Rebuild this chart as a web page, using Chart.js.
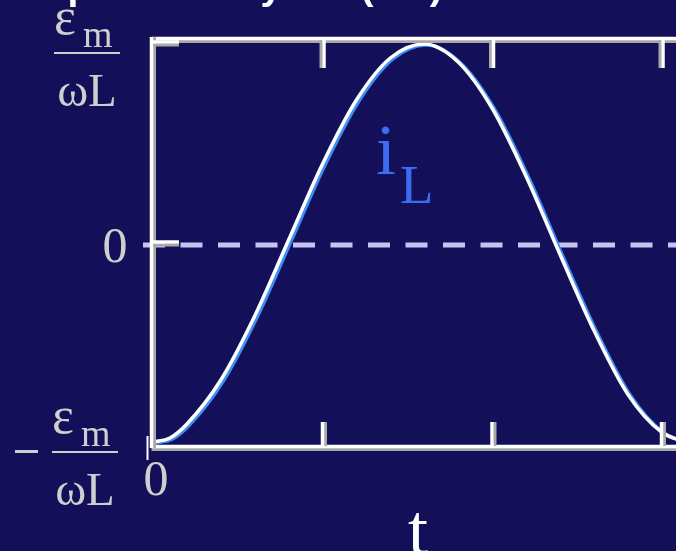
<!DOCTYPE html>
<html>
<head>
<meta charset="utf-8">
<script src="https://cdn.jsdelivr.net/npm/chart.js@4"></script>
<style>
  html, body { margin: 0; padding: 0; background: #130f59; }
  #wrap { width: 676px; height: 551px; position: relative; }
</style>
</head>
<body>
<div id="wrap"><canvas id="il-chart"></canvas></div>
<script>
(function () {
    "use strict";

    // inductor current vs time, in units of eps_m / (omega L)
    var timeValues = [0, 0.1, 0.2, 0.4, 0.6, 0.8, 1.0, 1.2, 1.4, 1.6, 1.8, 2.0, 2.2, 2.4, 2.6, 2.8, 3.0, 3.2];
    var currentValues = [-0.99, -0.97, -0.90, -0.68, -0.36, 0.02, 0.40, 0.72, 0.93, 1.00, 0.91, 0.68, 0.34, -0.05, -0.43, -0.75, -0.94, -1.00];
    var timeTicks = [1, 2, 3];
    var currentTicks = [1, 0];

    var grey = '#cfcfcf';
    var serif = "'Liberation Serif', 'DejaVu Serif', serif";

    // white axis line with a grey edge next to it
    function axisLine(ctx, x1, y1, x2, y2, dx, dy) {
        ctx.lineCap = 'butt';
        ctx.lineWidth = 3;
        ctx.strokeStyle = '#a9a9a9';
        ctx.beginPath();
        ctx.moveTo(x1 + dx, y1 + dy);
        ctx.lineTo(x2 + dx, y2 + dy);
        ctx.stroke();
        ctx.lineWidth = 3.5;
        ctx.strokeStyle = '#ffffff';
        ctx.beginPath();
        ctx.moveTo(x1, y1);
        ctx.lineTo(x2, y2);
        ctx.stroke();
    }

    // eps_m over omega L, centred on cx, fraction bar at barY
    function fraction(ctx, cx, barY, sign) {
        ctx.fillStyle = grey;
        ctx.textBaseline = 'alphabetic';
        ctx.textAlign = 'left';
        ctx.font = '52px ' + serif;
        ctx.fillText('\u03b5', cx - 33, barY - 19);
        ctx.font = '38px ' + serif;
        ctx.fillText('m', cx - 4, barY - 6);
        ctx.fillRect(cx - 33, barY - 1, 66, 2);
        ctx.font = '47px ' + serif;
        ctx.textAlign = 'center';
        ctx.fillText('\u03c9L', cx, barY + 53);
        if (sign) {
            ctx.fillRect(cx - 70, barY - 2, 23, 3);
        }
    }

    // dashed zero line, drawn under the curve
    var zeroLine = {
        id: 'zeroLine',
        beforeDatasetsDraw: function (chart) {
            var ctx = chart.ctx, a = chart.chartArea;
            var y0 = chart.scales.y.getPixelForValue(0);
            ctx.save();
            ctx.strokeStyle = '#c6c4f2';
            ctx.lineWidth = 5;
            ctx.setLineDash([22, 15.5]);
            ctx.beginPath();
            ctx.moveTo(a.left - 10, y0 + 1);
            ctx.lineTo(chart.width, y0 + 1);
            ctx.stroke();
            ctx.restore();
        }
    };

    // blue edge on the curve
    var curveEdge = {
        id: 'curveEdge',
        beforeDatasetDraw: function (chart) {
            var ctx = chart.ctx;
            ctx.save();
            ctx.shadowColor = '#3d8ef5';
            ctx.shadowOffsetX = 2.5;
            ctx.shadowOffsetY = 1;
            ctx.shadowBlur = 0;
        },
        afterDatasetDraw: function (chart) {
            chart.ctx.restore();
        }
    };

    // frame, ticks and labels
    var frame = {
        id: 'frame',
        afterDatasetsDraw: function (chart) {
            var ctx = chart.ctx, a = chart.chartArea;
            var xs = chart.scales.x, ys = chart.scales.y;
            ctx.save();

            axisLine(ctx, a.left - 1.5, a.top - 1.5, chart.width, a.top - 1.5, 0, 3);
            axisLine(ctx, a.left - 1.5, a.bottom - 1.5, chart.width, a.bottom - 1.5, 0, 3);
            axisLine(ctx, a.left - 1.5, a.top - 3, a.left - 1.5, a.bottom, 3, 0);

            timeTicks.forEach(function (t) {
                var px = xs.getPixelForValue(t);
                axisLine(ctx, px + 1.5, a.top, px + 1.5, a.top + 28, -3, 0);
                axisLine(ctx, px, a.bottom - 26, px, a.bottom - 2, 3, 0);
            });
            currentTicks.forEach(function (v) {
                var py = ys.getPixelForValue(v);
                axisLine(ctx, a.left, py - 2, a.left + 26, py - 2, 0, 3);
            });

            ctx.lineWidth = 2;
            ctx.strokeStyle = '#ffffff';
            ctx.beginPath();
            ctx.moveTo(a.left - 5.5, a.bottom - 12);
            ctx.lineTo(a.left - 5.5, a.bottom + 12);
            ctx.stroke();

            // y labels
            fraction(ctx, 87, ys.getPixelForValue(1) + 9, false);
            fraction(ctx, 85, ys.getPixelForValue(-1) + 8, true);
            ctx.fillStyle = grey;
            ctx.textAlign = 'center';
            ctx.font = '50px ' + serif;
            ctx.fillText('0', 115, ys.getPixelForValue(0) + 18);
            ctx.fillText('0', xs.getPixelForValue(0) + 3, a.bottom + 47);

            // x label
            ctx.fillStyle = '#ffffff';
            ctx.font = '72px ' + serif;
            ctx.fillText('t', 418, chart.height + 3);

            // curve label
            ctx.fillStyle = '#3b6cf2';
            ctx.textAlign = 'left';
            ctx.font = '72px ' + serif;
            ctx.fillText('i', 376, 174);
            ctx.font = '55px ' + serif;
            ctx.fillText('L', 400, 203);

            // slide heading, mostly above the top edge
            ctx.fillStyle = '#ffffff';
            ctx.font = "bold 39px 'Liberation Sans', Arial, sans-serif";
            ctx.fillText('Impedance by \u03c9L (AC)', 22, -1);

            ctx.restore();
        }
    };

    var points = timeValues.map(function (t, i) {
        return { x: t, y: currentValues[i] };
    });

    new Chart(document.getElementById('il-chart'), {
        type: 'line',
        data: {
            datasets: [{
                data: points,
                borderColor: '#ffffff',
                borderWidth: 3.5,
                pointRadius: 0,
                cubicInterpolationMode: 'monotone',
                fill: false
            }]
        },
        options: {
            responsive: true,
            maintainAspectRatio: false,
            animation: false,
            layout: { padding: { left: 153, top: 40, right: 0, bottom: 103 } },
            plugins: {
                legend: { display: false },
                tooltip: { enabled: false },
                title: { display: false }
            },
            scales: {
                x: { type: 'linear', min: 0, max: 3.0855, display: false },
                y: { min: -1.02, max: 1.02, display: false }
            }
        },
        plugins: [zeroLine, curveEdge, frame]
    });
})();
</script>
</body>
</html>
